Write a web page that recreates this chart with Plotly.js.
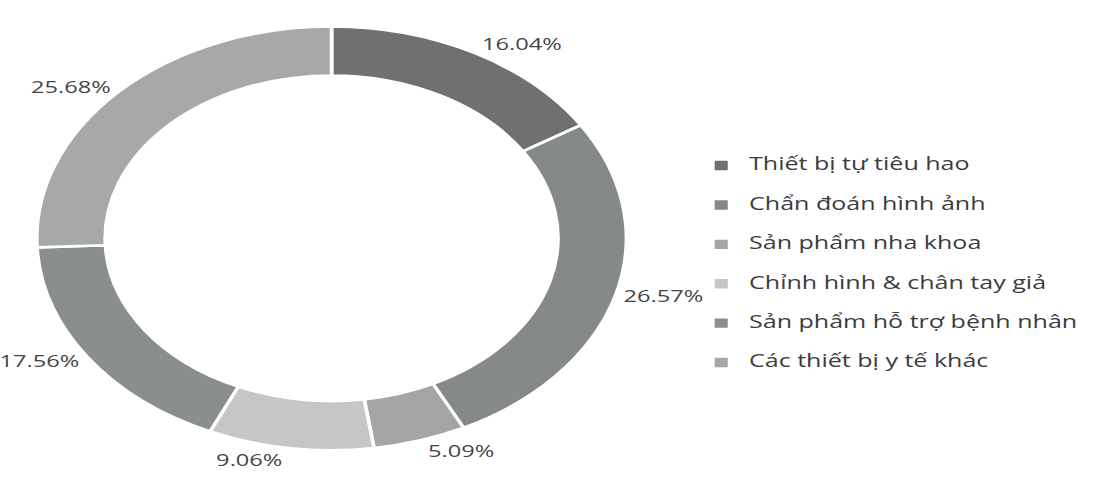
<!DOCTYPE html>
<html>
<head>
<meta charset="utf-8">
<script src="https://cdn.plot.ly/plotly-3.0.1.min.js"></script>
<style>
  html, body { margin: 0; padding: 0; background: #ffffff; overflow: hidden; }
  #wrap { width: 1099px; height: 478px; overflow: hidden; }
  #chart { width: 790px; height: 478px; transform: scaleX(1.391); transform-origin: 0 0; }
  #chart .legend .legendtext { transform: translateY(-6px); }
</style>
</head>
<body>
<div id="wrap"><div id="chart"></div></div>
<script>
// Data
const categories = [
  "Thiết bị tự tiêu hao",
  "Chẩn đoán hình ảnh",
  "Sản phẩm nha khoa",
  "Chỉnh hình & chân tay giả",
  "Sản phẩm hỗ trợ bệnh nhân",
  "Các thiết bị y tế khác"
];
const shares = [16.04, 26.57, 5.09, 9.06, 17.56, 25.68];
const sliceColors = ["#6e716d", "#868a86", "#a3a6a3", "#c4c7c4", "#8b8f8c", "#a6a9a6"];

const legendLabels = categories.map(c => '<span style="font-size:18px">' + c + '</span>');

const trace = {
  type: "pie",
  labels: legendLabels,
  values: shares,
  sort: false,
  direction: "clockwise",
  rotation: 0,
  hole: 0.768,
  marker: { colors: sliceColors, line: { color: "#ffffff", width: 2.6 } },
  textinfo: "text",
  texttemplate: "%{value:.2f}%",
  textposition: "outside",
  outsidetextfont: { family: "Open Sans, sans-serif", size: 17, color: "#454545" },
  domain: { x: [0.0335, 0.570], y: [0.058, 0.945] },
  showlegend: true,
  hoverinfo: "none"
};

const layout = {
  width: 790,
  height: 478,
  margin: { l: 0, r: 0, t: 0, b: 0 },
  paper_bgcolor: "#ffffff",
  plot_bgcolor: "#ffffff",
  showlegend: true,
  legend: {
    x: 0.631,
    xanchor: "left",
    y: 0.447,
    yanchor: "middle",
    font: { family: "Open Sans, sans-serif", size: 28, color: "#3c3c3c" },
    bgcolor: "rgba(0,0,0,0)",
    itemclick: false,
    itemdoubleclick: false
  }
};

Plotly.newPlot("chart", [trace], layout, { staticPlot: true, displayModeBar: false });
</script>
</body>
</html>
